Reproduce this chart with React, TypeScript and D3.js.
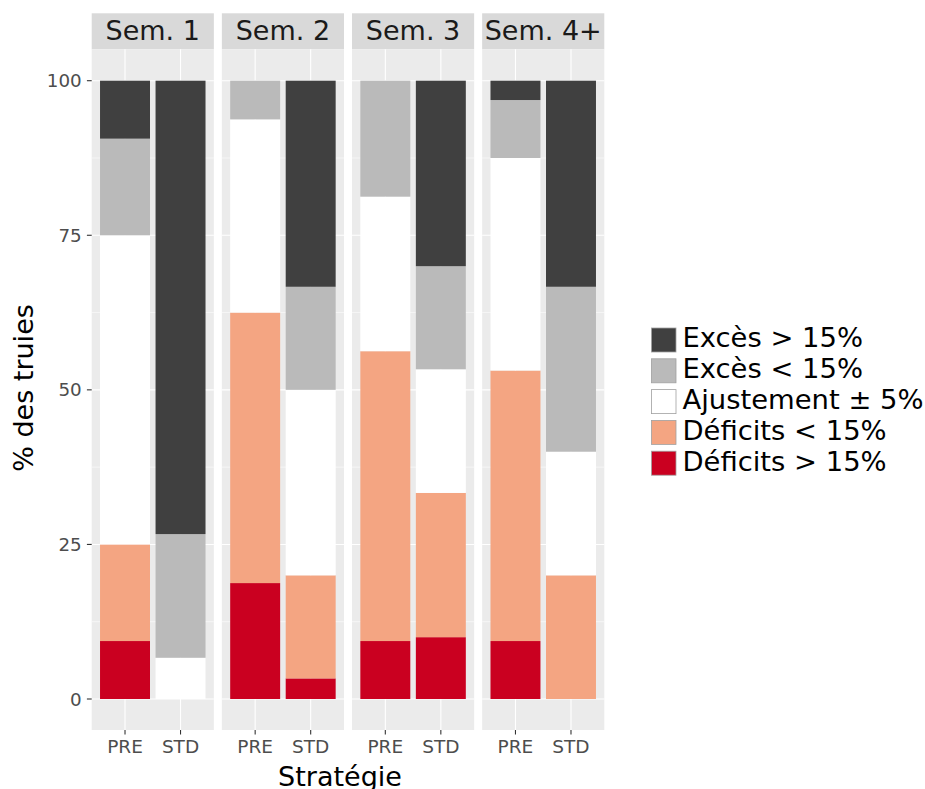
import React from "react";
import * as d3 from "d3";

const weeks = ["Sem. 1", "Sem. 2", "Sem. 3", "Sem. 4+"];
const strategies = ["PRE", "STD"];
// stacking order, bottom to top
const categories = ["Déficits > 15%", "Déficits < 15%", "Ajustement ± 5%", "Excès < 15%", "Excès > 15%"];
const colors = ["#CA0020", "#F4A582", "#FFFFFF", "#BABABA", "#404040"];
// values per bar in order: S1 PRE, S1 STD, S2 PRE, S2 STD, S3 PRE, S3 STD, S4 PRE, S4 STD
const deficitsSup = [9.375, 0, 18.75, 3.33, 9.375, 10, 9.375, 0];
const deficitsInf = [15.625, 0, 43.75, 16.67, 46.875, 23.33, 43.75, 20];
const ajustement = [50, 6.67, 31.25, 30, 25, 20, 34.375, 20];
const excesInf = [15.625, 20, 6.25, 16.67, 18.75, 16.67, 9.375, 26.67];
const excesSup = [9.375, 73.33, 0, 33.33, 0, 30, 3.125, 33.33];
const yTicks = [0, 25, 50, 75, 100];
const yMinor = [12.5, 37.5, 62.5, 87.5];

const seriesArrays = [deficitsSup, deficitsInf, ajustement, excesInf, excesSup];

const rows = weeks.flatMap((w, wi) =>
  strategies.map((s, si) => {
    const idx = wi * strategies.length + si;
    const r: any = { week: w, strategy: s };
    categories.forEach((c, ci) => (r[c] = seriesArrays[ci][idx]));
    return r;
  })
);

const FONT = "DejaVu Sans, sans-serif";

export default function App() {
  const W = 925, H = 789;
  const panelTop = 49.3, panelBottom = 730;
  const stripTop = 13.3;
  const facet = d3.scaleBand<string>().domain(weeks).range([91.7, 604.3]).paddingInner(8 / 130).paddingOuter(0);
  const pw = facet.bandwidth();
  const xin = d3.scaleBand<string>().domain(strategies).range([0, pw]).paddingInner(0.1).paddingOuter(0.15);
  const y = d3.scaleLinear().domain([0, 100]).range([699, 80.7]);
  const color = d3.scaleOrdinal<string, string>().domain(categories).range(colors);
  const stacked = d3.stack<any>().keys(categories)(rows);

  const legendOrder = [...categories].reverse();

  return (
    <svg width={W} height={H} style={{ position: "absolute", left: 0, top: 0, display: "block", background: "#fff" }} fontFamily={FONT}>
      {weeks.map((w) => {
        const px = facet(w)!;
        return (
          <g key={w}>
            <rect x={px} y={stripTop} width={pw} height={panelTop - stripTop} fill="#D9D9D9" />
            <text x={px + pw / 2} y={39.7} textAnchor="middle" fontSize={27} fill="#1A1A1A">{w}</text>
            <rect x={px} y={panelTop} width={pw} height={panelBottom - panelTop} fill="#EBEBEB" />
            {yMinor.map((t) => (
              <line key={"m" + t} x1={px} x2={px + pw} y1={y(t)} y2={y(t)} stroke="#fff" strokeWidth={0.55} />
            ))}
            {yTicks.map((t) => (
              <line key={"M" + t} x1={px} x2={px + pw} y1={y(t)} y2={y(t)} stroke="#fff" strokeWidth={1.1} />
            ))}
            {strategies.map((s) => {
              const cx = px + xin(s)! + xin.bandwidth() / 2;
              return (
                <g key={s}>
                  <line x1={cx} x2={cx} y1={panelTop} y2={panelBottom} stroke="#fff" strokeWidth={1.1} />
                  <line x1={cx} x2={cx} y1={panelBottom} y2={panelBottom + 4.5} stroke="#333" strokeWidth={1.1} />
                  <text x={cx} y={752.5} textAnchor="middle" fontSize={18.5} fill="#4D4D4D">{s}</text>
                </g>
              );
            })}
          </g>
        );
      })}
      {stacked.map((layer) => (
        <g key={layer.key} fill={color(layer.key)}>
          {layer.map((d, i) => {
            const r = rows[i];
            const x0 = facet(r.week)! + xin(r.strategy)!;
            const h = y(d[0]) - y(d[1]);
            if (h <= 0) return null;
            return <rect key={i} x={x0} y={y(d[1])} width={xin.bandwidth()} height={h} />;
          })}
        </g>
      ))}
      {yTicks.map((t) => (
        <g key={t}>
          <line x1={86.9} x2={91.7} y1={y(t)} y2={y(t)} stroke="#333" strokeWidth={1.1} />
          <text x={81.7} y={y(t) + 6.6} textAnchor="end" fontSize={18.3} fill="#4D4D4D">{t}</text>
        </g>
      ))}
      <text transform={`translate(33,388) rotate(-90)`} textAnchor="middle" fontSize={27} fill="#000">% des truies</text>
      <text x={340} y={786} textAnchor="middle" fontSize={27} fill="#000">Stratégie</text>
      {legendOrder.map((c, i) => {
        const base = 347.3 + i * 30.8;
        return (
          <g key={c}>
            <rect x={651.5} y={base - 19.3} width={24.5} height={24} fill={color(c)} stroke="#A0A0A0" strokeWidth={0.8} />
            <text x={682.5} y={base} fontSize={27.4} fill="#000">{c}</text>
          </g>
        );
      })}
    </svg>
  );
}
